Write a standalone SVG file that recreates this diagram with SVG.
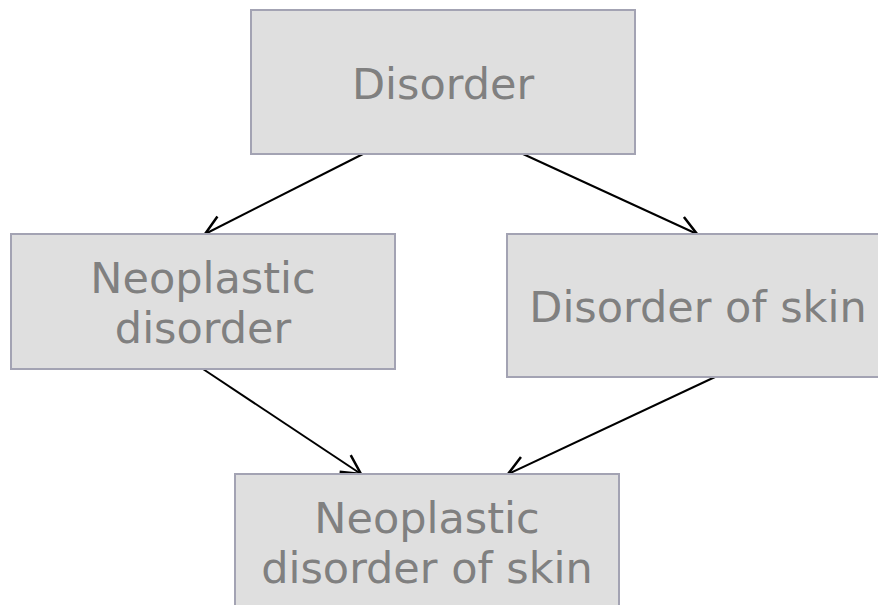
<svg xmlns="http://www.w3.org/2000/svg" width="878" height="605" viewBox="0 0 878 605">
<defs>
<style>
.box{fill:#dfdfdf;stroke:#a3a3b3;stroke-width:2}
.lbl{font-family:"DejaVu Sans",Verdana,sans-serif;font-size:43px;fill:#808080;text-anchor:middle}
.edge{stroke:#000;stroke-width:2;fill:none;marker-end:url(#arr)}
</style>
<marker id="arr" viewBox="0 0 24 24" refX="21" refY="12" markerWidth="24" markerHeight="24" markerUnits="userSpaceOnUse" orient="auto">
<path d="M2,2 L21,12 L2,22" fill="none" stroke="#000" stroke-width="2.5"/>
</marker>
</defs>
<rect width="878" height="605" fill="#fff"/>
<g id="edges">
<line class="edge" x1="363" y1="154" x2="205" y2="234"/>
<line class="edge" x1="523" y1="154" x2="697" y2="234"/>
<line class="edge" x1="203" y1="369" x2="361" y2="474"/>
<line class="edge" x1="715" y1="377" x2="508" y2="474"/>
</g>
<g id="n-disorder">
<rect class="box" x="251" y="10" width="384" height="144"/>
<text class="lbl" x="443" y="99">Disorder</text>
</g>
<g id="n-neoplastic">
<rect class="box" x="11" y="234" width="384" height="135"/>
<text class="lbl" x="203" y="293">Neoplastic</text>
<text class="lbl" x="203" y="343">disorder</text>
</g>
<g id="n-skin">
<rect class="box" x="507" y="234" width="384" height="143"/>
<text class="lbl" x="698" y="322">Disorder of skin</text>
</g>
<g id="n-neoplastic-skin">
<rect class="box" x="235" y="474" width="384" height="150"/>
<text class="lbl" x="427" y="533">Neoplastic</text>
<text class="lbl" x="427" y="583">disorder of skin</text>
</g>
</svg>
